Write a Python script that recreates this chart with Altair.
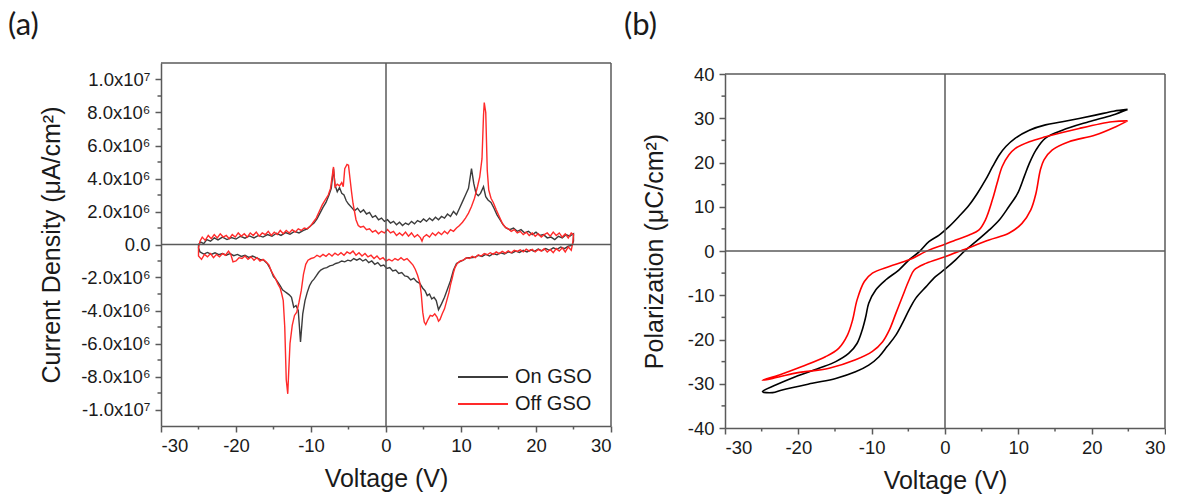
import altair as alt
import pandas as pd

# ---------------- axis ticks / labels ----------------
X_DOMAIN = [-30, 30]
X_TICKS = [-30, -20, -10, 0, 10, 20, 30]
X_MINOR = [-25, -15, -5, 5, 15, 25]

A_Y_DOMAIN = [-11, 11]                                         # units of 1e6 uA/cm2
A_Y_TICKS = [-10, -8, -6, -4, -2, 0, 2, 4, 6, 8, 10]
A_Y_LABELS = ["-1.0x10⁷", "-8.0x10⁶", "-6.0x10⁶", "-4.0x10⁶", "-2.0x10⁶", "0.0",
              "2.0x10⁶", "4.0x10⁶", "6.0x10⁶", "8.0x10⁶", "1.0x10⁷"]
A_Y_MINOR = [-9, -7, -5, -3, -1, 1, 3, 5, 7, 9]

B_Y_DOMAIN = [-40, 40]
B_Y_TICKS = [-40, -30, -20, -10, 0, 10, 20, 30, 40]
B_Y_MINOR = [-35, -25, -15, -5, 5, 15, 25, 35]

SERIES = ["On GSO", "Off GSO"]
COLORS_A = ["#3c3c3c", "#ff2a2a"]
COLORS_B = ["#000000", "#ff0000"]

# ---------------- panel (a): current density (x1e6 uA/cm2) vs voltage ----------------
ON_FWD = [(-25.0, 0.00), (-24.7, 0.15), (-24.3, 0.05), (-23.9, 0.30), (-23.4, 0.20), (-22.9, 0.40),
          (-22.4, 0.28), (-21.8, 0.45), (-21.2, 0.30), (-20.6, 0.42), (-20.0, 0.33), (-19.4, 0.50),
          (-18.8, 0.38), (-18.2, 0.52), (-17.6, 0.40), (-17.0, 0.55), (-16.4, 0.45), (-15.8, 0.60),
          (-15.2, 0.50), (-14.6, 0.68), (-14.0, 0.55), (-13.4, 0.72), (-12.8, 0.62), (-12.2, 0.80),
          (-11.6, 0.70), (-11.0, 0.85), (-10.5, 0.95), (-10.0, 1.15), (-9.6, 1.30), (-9.2, 1.55),
          (-8.8, 1.90), (-8.4, 2.25), (-8.0, 2.55), (-7.6, 3.00), (-7.3, 3.40), (-7.0, 4.60),
          (-6.8, 3.60), (-6.5, 3.20), (-6.2, 3.45), (-5.9, 3.10), (-5.6, 3.00), (-5.3, 2.65),
          (-5.0, 2.45), (-4.6, 2.25), (-4.2, 2.05), (-3.8, 2.20), (-3.4, 1.95), (-3.0, 2.10),
          (-2.6, 1.85), (-2.2, 1.95), (-1.8, 1.65), (-1.4, 1.75), (-1.0, 1.50), (-0.6, 1.60),
          (-0.2, 1.40), (0.2, 1.50), (0.6, 1.30), (1.0, 1.40), (1.4, 1.20), (1.8, 1.35),
          (2.2, 1.15), (2.6, 1.30), (3.0, 1.20), (3.4, 1.40), (3.8, 1.25), (4.2, 1.45),
          (4.6, 1.35), (5.0, 1.55), (5.4, 1.40), (5.8, 1.60), (6.2, 1.45), (6.6, 1.65),
          (7.0, 1.50), (7.4, 1.70), (7.8, 1.60), (8.2, 1.85), (8.6, 1.70), (9.0, 2.00),
          (9.4, 1.80), (9.8, 2.20), (10.2, 2.60), (10.6, 3.00), (11.0, 3.40), (11.4, 4.60),
          (11.7, 3.70), (12.0, 3.10), (12.3, 2.95), (12.6, 3.10), (13.0, 3.50), (13.3, 2.90),
          (13.6, 2.70), (14.0, 2.55), (14.4, 2.20), (14.8, 1.80), (15.2, 1.50), (15.6, 1.20),
          (16.0, 1.00), (16.5, 0.90), (17.0, 1.00), (17.5, 0.80), (18.0, 0.90), (18.5, 0.70),
          (19.0, 0.80), (19.5, 0.60), (20.0, 0.75), (20.5, 0.55), (21.0, 0.60), (21.5, 0.40),
          (22.0, 0.45), (22.5, 0.30), (23.0, 0.50), (23.5, 0.40), (24.0, 0.60), (24.5, 0.50),
          (25.0, 0.65)]
ON_REV = [(25.0, 0.20), (24.8, -0.05), (24.3, -0.10), (23.8, -0.25), (23.3, -0.15), (22.8, -0.30),
          (22.3, -0.20), (21.8, -0.35), (21.3, -0.25), (20.8, -0.38), (20.3, -0.28), (19.8, -0.42),
          (19.3, -0.32), (18.8, -0.45), (18.3, -0.35), (17.8, -0.48), (17.3, -0.40), (16.8, -0.52),
          (16.3, -0.45), (15.8, -0.58), (15.3, -0.50), (14.8, -0.62), (14.3, -0.55), (13.8, -0.70),
          (13.3, -0.60), (12.8, -0.72), (12.3, -0.66), (11.8, -0.78), (11.3, -0.80), (10.8, -0.80),
          (10.3, -0.95), (9.8, -1.05), (9.4, -1.15), (9.0, -1.55), (8.6, -2.20), (8.2, -2.70),
          (7.8, -3.20), (7.4, -3.60), (7.0, -3.95), (6.7, -3.40), (6.4, -3.20), (6.1, -3.30),
          (5.8, -3.00), (5.5, -3.10), (5.2, -2.80), (4.9, -2.65), (4.5, -2.35), (4.1, -2.25),
          (3.7, -2.05), (3.3, -2.15), (2.9, -1.95), (2.5, -1.90), (2.1, -1.70), (1.7, -1.75),
          (1.3, -1.55), (0.9, -1.60), (0.5, -1.40), (0.1, -1.45), (-0.3, -1.25), (-0.7, -1.30),
          (-1.1, -1.10), (-1.5, -1.20), (-1.9, -1.00), (-2.3, -1.10), (-2.7, -0.90), (-3.1, -1.00),
          (-3.5, -0.85), (-3.9, -0.95), (-4.3, -0.85), (-4.7, -1.00), (-5.1, -0.95), (-5.5, -1.05),
          (-5.9, -1.00), (-6.3, -1.10), (-6.7, -1.15), (-7.1, -1.25), (-7.5, -1.30), (-7.9, -1.40),
          (-8.3, -1.45), (-8.7, -1.55), (-9.0, -1.70), (-9.3, -1.90), (-9.6, -2.10), (-9.9, -2.25),
          (-10.2, -2.50), (-10.5, -2.90), (-10.8, -3.40), (-11.1, -4.20), (-11.4, -5.90), (-11.7, -4.00),
          (-12.0, -3.70), (-12.3, -3.80), (-12.6, -3.20), (-12.9, -3.05), (-13.2, -2.95), (-13.5, -2.85),
          (-13.8, -2.75), (-14.1, -2.50), (-14.4, -2.30), (-14.7, -2.10), (-15.0, -1.95), (-15.4, -1.50),
          (-15.8, -1.17), (-16.3, -0.95), (-16.8, -0.90), (-17.3, -0.80), (-17.8, -0.70), (-18.3, -0.78),
          (-18.8, -0.65), (-19.3, -0.72), (-19.8, -0.60), (-20.3, -0.68), (-20.8, -0.55), (-21.3, -0.65),
          (-21.8, -0.55), (-22.3, -0.62), (-22.8, -0.50), (-23.3, -0.60), (-23.8, -0.48), (-24.3, -0.58),
          (-24.8, -0.45), (-25.0, -0.20), (-25.0, 0.00)]

OFF_FWD = [(-25.0, -0.20), (-24.8, 0.20), (-24.5, 0.45), (-24.1, 0.25), (-23.7, 0.55), (-23.3, 0.35),
           (-22.9, 0.60), (-22.5, 0.40), (-22.1, 0.65), (-21.7, 0.45), (-21.3, 0.55), (-20.9, 0.35),
           (-20.5, 0.60), (-20.1, 0.45), (-19.7, 0.70), (-19.3, 0.50), (-18.9, 0.65), (-18.5, 0.45),
           (-18.1, 0.70), (-17.7, 0.55), (-17.3, 0.75), (-16.9, 0.50), (-16.5, 0.70), (-16.1, 0.60),
           (-15.7, 0.80), (-15.3, 0.55), (-14.9, 0.75), (-14.5, 0.60), (-14.1, 0.85), (-13.7, 0.65),
           (-13.3, 0.85), (-12.9, 0.70), (-12.5, 0.90), (-12.1, 0.75), (-11.7, 0.95), (-11.3, 0.85),
           (-10.9, 1.00), (-10.5, 0.95), (-10.1, 1.10), (-9.7, 1.35), (-9.3, 1.60), (-8.9, 2.00),
           (-8.5, 2.40), (-8.1, 2.70), (-7.7, 3.00), (-7.4, 3.40), (-7.0, 4.70), (-6.8, 3.50),
           (-6.5, 3.65), (-6.2, 3.55), (-5.9, 3.75), (-5.7, 3.50), (-5.5, 4.60), (-5.2, 4.85),
           (-5.0, 4.80), (-4.8, 4.00), (-4.6, 3.20), (-4.4, 2.50), (-4.2, 2.00), (-4.0, 1.50),
           (-3.7, 1.15), (-3.4, 1.05), (-3.0, 1.10), (-2.6, 0.90), (-2.2, 0.95), (-1.8, 0.75),
           (-1.4, 0.85), (-1.0, 0.65), (-0.6, 0.80), (-0.2, 0.70), (0.2, 0.90), (0.6, 0.70),
           (1.0, 0.80), (1.4, 0.55), (1.8, 0.70), (2.2, 0.55), (2.6, 0.75), (3.0, 0.50),
           (3.4, 0.70), (3.8, 0.45), (4.2, 0.60), (4.6, 0.40), (4.8, 0.20), (5.0, 0.45),
           (5.4, 0.60), (5.8, 0.45), (6.2, 0.70), (6.6, 0.55), (7.0, 0.75), (7.4, 0.60),
           (7.8, 0.80), (8.2, 0.65), (8.6, 0.90), (9.0, 0.80), (9.4, 1.00), (9.8, 1.15),
           (10.2, 1.35), (10.6, 1.60), (11.0, 1.90), (11.4, 2.30), (11.8, 2.80), (12.2, 3.50),
           (12.5, 4.10), (12.8, 5.20), (13.0, 7.80), (13.1, 8.60), (13.3, 8.00), (13.5, 4.50),
           (13.7, 3.30), (14.0, 2.80), (14.3, 2.55), (14.7, 2.10), (15.1, 1.70), (15.5, 1.30),
           (15.9, 1.05), (16.3, 0.95), (16.7, 0.80), (17.1, 0.90), (17.5, 0.70), (17.9, 0.80),
           (18.3, 0.60), (18.7, 0.75), (19.1, 0.55), (19.5, 0.70), (19.9, 0.50), (20.3, 0.65),
           (20.7, 0.45), (21.1, 0.60), (21.5, 0.70), (21.9, 0.50), (22.3, 0.75), (22.7, 0.55),
           (23.1, 0.70), (23.5, 0.45), (23.9, 0.65), (24.3, 0.40), (24.7, 0.70), (25.0, 0.60)]
OFF_REV = [(24.9, 0.10), (24.7, -0.35), (24.3, -0.15), (23.9, -0.45), (23.5, -0.20), (23.1, -0.40),
           (22.7, -0.25), (22.3, -0.50), (21.9, -0.30), (21.5, -0.45), (21.1, -0.25), (20.7, -0.40),
           (20.3, -0.30), (19.9, -0.45), (19.5, -0.30), (19.1, -0.40), (18.7, -0.28), (18.3, -0.45),
           (17.9, -0.32), (17.5, -0.42), (17.1, -0.35), (16.7, -0.50), (16.3, -0.38), (15.9, -0.52),
           (15.5, -0.42), (15.1, -0.55), (14.7, -0.45), (14.3, -0.60), (13.9, -0.50), (13.5, -0.62),
           (13.1, -0.55), (12.7, -0.70), (12.3, -0.62), (11.9, -0.80), (11.5, -0.72), (11.1, -0.85),
           (10.7, -0.80), (10.3, -0.95), (9.9, -1.00), (9.5, -1.15), (9.2, -1.40), (9.0, -1.70),
           (8.8, -2.10), (8.6, -2.45), (8.4, -2.90), (8.1, -3.40), (7.8, -3.90), (7.5, -4.20),
           (7.2, -4.55), (7.0, -4.65), (6.8, -4.40), (6.5, -4.20), (6.2, -4.35), (5.9, -4.30),
           (5.6, -4.55), (5.3, -4.85), (5.1, -4.70), (4.9, -4.10), (4.7, -3.00), (4.5, -2.30),
           (4.2, -1.85), (3.9, -1.50), (3.6, -1.25), (3.2, -1.05), (2.8, -0.85), (2.4, -0.95),
           (2.0, -0.80), (1.6, -0.95), (1.2, -0.85), (0.8, -1.00), (0.4, -0.90), (0.0, -1.00),
           (-0.4, -0.80), (-0.8, -0.90), (-1.2, -0.70), (-1.6, -0.85), (-2.0, -0.65), (-2.4, -0.75),
           (-2.8, -0.55), (-3.2, -0.70), (-3.6, -0.50), (-4.0, -0.65), (-4.4, -0.40), (-4.8, -0.55),
           (-5.2, -0.45), (-5.6, -0.65), (-6.0, -0.50), (-6.4, -0.65), (-6.8, -0.52), (-7.2, -0.70),
           (-7.6, -0.55), (-8.0, -0.72), (-8.4, -0.60), (-8.8, -0.75), (-9.2, -0.65), (-9.6, -0.80),
           (-10.0, -0.85), (-10.4, -0.95), (-10.7, -1.20), (-11.0, -1.80), (-11.3, -2.80), (-11.6, -3.50),
           (-11.9, -4.10), (-12.2, -4.30), (-12.5, -4.90), (-12.8, -6.00), (-13.0, -8.00), (-13.1, -9.05),
           (-13.3, -8.20), (-13.5, -5.00), (-13.7, -3.40), (-13.9, -3.00), (-14.1, -2.65), (-14.4, -2.40),
           (-14.7, -2.10), (-15.0, -1.85), (-15.3, -1.60), (-15.6, -1.25), (-16.0, -1.05), (-16.4, -0.90),
           (-16.8, -1.00), (-17.2, -0.80), (-17.6, -0.95), (-18.0, -0.75), (-18.4, -0.90), (-18.8, -0.70),
           (-19.2, -0.85), (-19.6, -0.80), (-20.0, -1.00), (-20.4, -1.05), (-20.7, -0.60), (-21.0, -0.40),
           (-21.4, -0.65), (-21.8, -0.55), (-22.2, -0.75), (-22.6, -0.60), (-23.0, -0.80), (-23.4, -0.55),
           (-23.8, -0.75), (-24.2, -0.60), (-24.6, -0.90), (-25.0, -0.70), (-25.0, -0.20)]

# ---------------- panel (b): polarization (uC/cm2) vs voltage ----------------
ON_PE = [(24.9, 32.0), (23.0, 31.6), (20.5, 30.7), (16.0, 29.2), (13.7, 28.5), (11.5, 27.3),
         (9.6, 25.5), (8.3, 23.6), (7.4, 21.7), (6.5, 19.1), (5.5, 16.0), (4.4, 13.0), (3.3, 10.4),
         (1.9, 7.8), (0.55, 5.5), (0.0, 4.7), (-0.8, 3.6), (-2.2, 2.1), (-3.5, -0.15), (-4.9, -2.0),
         (-6.3, -4.3), (-8.1, -6.55), (-9.45, -8.8), (-10.4, -11.8), (-10.8, -14.8), (-11.3, -17.9),
         (-12.0, -20.9), (-13.1, -23.1), (-14.9, -25.0), (-17.2, -26.5), (-20.4, -28.4), (-23.1, -30.3),
         (-24.9, -31.8), (-23.5, -32.0), (-22.2, -31.4), (-18.1, -29.9), (-14.9, -28.8), (-12.2, -27.3),
         (-10.4, -25.8), (-9.0, -23.9), (-7.9, -21.6), (-6.7, -19.0), (-5.8, -16.3), (-4.9, -13.3),
         (-4.0, -10.7), (-2.6, -8.1), (-1.3, -5.8), (0.0, -4.1), (1.45, -2.0), (2.8, 0.2), (4.2, 2.1),
         (6.0, 4.7), (7.4, 7.0), (8.7, 10.0), (9.9, 13.0), (10.8, 16.8), (11.5, 19.8), (12.4, 22.8),
         (13.7, 25.5), (16.0, 27.3), (19.6, 29.2), (22.8, 30.7), (24.9, 32.0)]
OFF_PE = [(24.9, 29.4), (22.8, 29.2), (18.3, 27.7), (13.7, 25.8), (11.5, 24.7), (9.6, 23.2),
          (8.7, 21.7), (7.8, 19.1), (7.1, 15.3), (6.45, 11.5), (5.5, 7.0), (4.6, 4.7), (3.3, 3.6),
          (1.45, 2.5), (0.0, 1.5), (-2.2, 0.2), (-4.9, -2.0), (-7.6, -3.5), (-9.9, -5.0), (-11.0, -6.9),
          (-12.0, -11.1), (-12.6, -15.6), (-13.3, -19.0), (-14.5, -22.0), (-16.3, -23.9), (-19.5, -26.1),
          (-22.6, -28.0), (-24.9, -29.2), (-23.5, -28.8), (-20.4, -27.6), (-15.8, -26.5), (-12.2, -24.6),
          (-9.9, -22.7), (-8.5, -20.5), (-7.6, -17.9), (-6.7, -14.1), (-5.8, -10.3), (-4.9, -6.55),
          (-4.2, -4.3), (-2.6, -2.8), (0.0, -1.3), (2.4, 0.2), (6.0, 2.5), (8.7, 4.0), (10.5, 6.25),
          (11.7, 9.3), (12.4, 13.0), (13.0, 18.3), (13.5, 20.6), (14.6, 22.8), (16.9, 24.7),
          (20.5, 26.2), (23.3, 28.1), (24.9, 29.4)]

# ---------------- build tables ----------------
rows_a = []
for name, pts in [("On GSO", ON_FWD + ON_REV), ("Off GSO", OFF_FWD + OFF_REV)]:
    for i, (v, j) in enumerate(pts):
        rows_a.append({"series": name, "i": i, "V": v, "Y": j})
df_a = pd.DataFrame(rows_a)

rows_b = []
for name, pts in [("On GSO", ON_PE), ("Off GSO", OFF_PE)]:
    for i, (v, p) in enumerate(pts):
        rows_b.append({"series": name, "i": i, "V": v, "Y": p})
df_b = pd.DataFrame(rows_b)

label_expr_a = "''"
for v, lab in zip(A_Y_TICKS, A_Y_LABELS):
    label_expr_a = f"datum.value == {v} ? '{lab}' : ({label_expr_a})"

FRAME = "#5a5a5a"
W_A, H_A = 450, 363
W_B, H_B, B_TOP = 440, 365, 11
LABEL_SIZE = 18.5


def make_panel(df, y_dom, y_range, y_axis_kw, y_minor, colors, w, h, tag, legend):
    xs = alt.Scale(domain=X_DOMAIN, nice=False, zero=False)
    ys = alt.Scale(domain=y_dom, nice=False, zero=False, range=y_range)
    x_ax = alt.Axis(values=X_TICKS, title="Voltage (V)", grid=False, tickSize=6,
                    labelExpr="datum.value + ''", labelFontSize=LABEL_SIZE, labelPadding=4,
                    titleFontSize=25, titlePadding=12)
    y_ax = alt.Axis(grid=False, tickSize=6, labelFontSize=LABEL_SIZE, labelPadding=5,
                    titleFontSize=25, **y_axis_kw)

    def X(f="V:Q"):
        return alt.X(f, scale=xs, axis=x_ax)

    def Y(f="Y:Q"):
        return alt.Y(f, scale=ys, axis=y_ax)

    cscale = alt.Scale(domain=SERIES, range=colors)
    line = alt.Chart(df).mark_line(
        strokeWidth=1.4 if legend else 1.6,
        interpolate="linear" if legend else "catmull-rom").encode(
        x=X(), y=Y(),
        color=alt.Color("series:N", scale=cscale, legend=None),
        order=alt.Order("i:Q"),
    )
    rule = dict(color=FRAME, strokeWidth=1.5)
    vzero = alt.Chart(pd.DataFrame({"V": [0], "Y": [y_dom[0]], "Y2": [y_dom[1]]})).mark_rule(**rule).encode(
        x=X(), y=Y(), y2="Y2:Q")
    hzero = alt.Chart(pd.DataFrame({"Y": [0], "V": [X_DOMAIN[0]], "V2": [X_DOMAIN[1]]})).mark_rule(**rule).encode(
        y=Y(), x=X(), x2="V2:Q")
    top = alt.Chart(pd.DataFrame({"Y": [y_dom[1]], "V": [X_DOMAIN[0]], "V2": [X_DOMAIN[1]]})).mark_rule(**rule).encode(
        y=Y(), x=X(), x2="V2:Q")
    right = alt.Chart(pd.DataFrame({"V": [X_DOMAIN[1]], "Y": [y_dom[0]], "Y2": [y_dom[1]]})).mark_rule(**rule).encode(
        x=X(), y=Y(), y2="Y2:Q")
    xminor = alt.Chart(pd.DataFrame({"V": X_MINOR})).mark_rule(**rule).encode(
        x=X(), y=alt.value(h), y2=alt.value(h + 3.5))
    yminor = alt.Chart(pd.DataFrame({"Y": y_minor})).mark_rule(**rule).encode(
        y=Y(), x=alt.value(0), x2=alt.value(-3.5))
    layers = [line, hzero, vzero, top, right, xminor, yminor]
    label = alt.Chart(pd.DataFrame({"t": [tag[0]]})).mark_text(
        align="left", baseline="middle", font="Lato", fontSize=31, color="#1a1a1a").encode(
        text="t:N", x=alt.value(tag[1]), y=alt.value(tag[2]))
    layers.append(label)
    if legend:
        for k, name in enumerate(SERIES):
            ld = pd.DataFrame({"series": [name]})
            yy = 314 + 27 * k
            layers.append(alt.Chart(ld).mark_rule(strokeWidth=2).encode(
                x=alt.value(297), x2=alt.value(347), y=alt.value(yy),
                color=alt.Color("series:N", scale=cscale, legend=None)))
            layers.append(alt.Chart(ld).mark_text(
                align="left", baseline="middle", font="Liberation Sans", fontSize=20,
                color="#1a1a1a").encode(text="series:N", x=alt.value(354), y=alt.value(yy)))
    return alt.layer(*layers).properties(width=w, height=h)


panel_a = make_panel(
    df_a, A_Y_DOMAIN, [H_A, 0],
    dict(values=A_Y_TICKS, title="Current Density (μA/cm²)", labelExpr=label_expr_a, titlePadding=16),
    A_Y_MINOR, COLORS_A, W_A, H_A, ("(a)", -153, -37), True)
panel_b = make_panel(
    df_b, B_Y_DOMAIN, [H_B, B_TOP],
    dict(values=B_Y_TICKS, title="Polarization (μC/cm²)", labelExpr="datum.value + ''", titlePadding=20),
    B_Y_MINOR, COLORS_B, W_B, H_B, ("(b)", -101, -37), False)

chart = alt.hconcat(panel_a, panel_b, spacing=12).resolve_scale(
    color="independent", x="independent", y="independent"
).properties(
    padding={"left": 8, "top": 10, "right": 0, "bottom": 0},
    background="white",
).configure_view(
    stroke="transparent", strokeWidth=0
).configure_axis(
    domainColor=FRAME, domainWidth=1.5, tickColor=FRAME, tickWidth=1.5,
    labelFont="Liberation Sans", titleFont="Liberation Sans",
    labelColor="#1a1a1a", titleColor="#1a1a1a", titleFontWeight="normal",
)

chart.save("out.html", embed_options={"renderer": "svg", "actions": False})
